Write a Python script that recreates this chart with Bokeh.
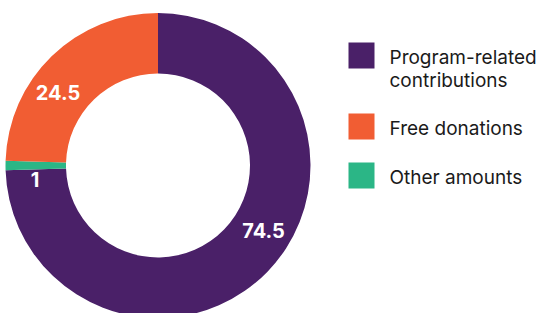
import math
from bokeh.plotting import figure
from bokeh.models import Range1d, ColumnDataSource
from bokeh.core.properties import value
from bokeh.embed import file_html
from bokeh.resources import INLINE

# ---- data ----
legend_labels = ["Program-related\ncontributions", "Free donations", "Other amounts"]
legend_colors = ["#4A2068", "#F15D33", "#2BB686"]
slice_labels = ["Program-related contributions", "Other amounts", "Free donations"]  # clockwise from top
slice_values = [74.5, 1, 24.5]
slice_colors = ["#4A2068", "#2BB686", "#F15D33"]
label_shift_deg = [12.6, 6.4, 9.8]  # style: label angular nudge

W, H = 540, 313
p = figure(width=W, height=H, output_backend="svg", toolbar_location=None,
           x_range=Range1d(0, W), y_range=Range1d(0, H), min_border=0)
p.axis.visible = False
p.grid.visible = False
p.outline_line_color = None
p.background_fill_color = "white"
p.border_fill_color = "white"

cx, cy = 157.5, 148
r_in, r_out = 92, 152.5

total = sum(slice_values)
starts, ends, lx, ly, ltxt = [], [], [], [], []
cum = 0.0
for v, sh in zip(slice_values, label_shift_deg):
    a0 = math.pi / 2 - 2 * math.pi * cum / total
    cum += v
    a1 = math.pi / 2 - 2 * math.pi * cum / total
    starts.append(a0)
    ends.append(a1)
    mid = (a0 + a1) / 2 + math.radians(sh)
    rm = (r_in + r_out) / 2 + 1.5
    lx.append(cx + rm * math.cos(mid))
    ly.append(cy + rm * math.sin(mid))
    ltxt.append(f"{v:g}")

src = ColumnDataSource(dict(start=starts, end=ends, color=slice_colors, name=slice_labels))
p.annular_wedge(x=cx, y=cy, inner_radius=r_in, outer_radius=r_out,
                start_angle="start", end_angle="end", direction="clock",
                fill_color="color", line_color=None, source=src)

p.text(x=lx, y=ly, text=ltxt, text_color="white", text_font=value("Inter"),
       text_font_size="20px", text_font_style="bold", text_align="center",
       text_baseline="middle")

# ---- legend (manual) ----
sq = 26
leg_x = 361
row_y = [258, 187, 138]
p.rect(x=[leg_x] * 3, y=row_y, width=sq, height=sq, fill_color=legend_colors,
       line_color=None)
tx, ty, tt = [], [], []
for lab, y in zip(legend_labels, row_y):
    lines = lab.split("\n")
    for i, ln in enumerate(lines):
        tx.append(leg_x + 28)
        ty.append(y - 1.5 - i * 23)
        tt.append(ln)
p.text(x=tx, y=ty, text=tt, text_color="#1A1A1A", text_font=value("Inter"),
       text_font_size="19px", text_align="left", text_baseline="middle")

open("out.html", "w").write(file_html(p, INLINE))
